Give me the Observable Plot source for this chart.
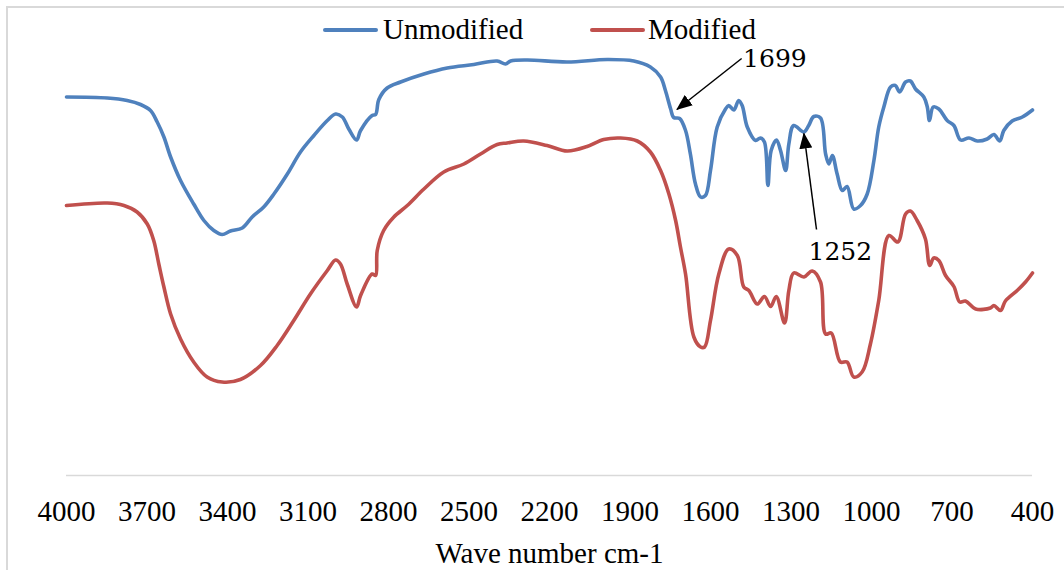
<!DOCTYPE html>
<html><head><meta charset="utf-8">
<script src="https://cdn.jsdelivr.net/npm/d3@7"></script>
<script src="https://cdn.jsdelivr.net/npm/@observablehq/plot@0.6"></script>
<style>
body{margin:0;background:#fff;}
#wrap{position:relative;width:1064px;height:570px;overflow:hidden;background:#fff;}
#frame{position:absolute;left:6px;top:6px;width:1200px;height:800px;border-top:2px solid #d9d9d9;border-left:2px solid #d9d9d9;box-sizing:border-box;pointer-events:none;}
.sw{position:absolute;height:4px;border-radius:2px;top:28px;width:55px;}
.lt{position:absolute;top:15px;font-family:"Liberation Serif","Times New Roman",serif;font-size:29px;line-height:29px;color:#000;white-space:nowrap;}
#chart{position:absolute;left:0;top:0;}
</style></head>
<body>
<div id="wrap">
  <div id="chart"></div>
  <div id="frame"></div>
  <div class="sw" style="left:323px;background:#4f81bd"></div>
  <div class="lt" style="left:383px">Unmodified</div>
  <div class="sw" style="left:590px;background:#c0504d"></div>
  <div class="lt" style="left:648px">Modified</div>
</div>
<script>
// x ticks (wave number, cm-1)
const xTicks = [4000,3700,3400,3100,2800,2500,2200,1900,1600,1300,1000,700,400];

// Unmodified spectrum (wave number, transmittance a.u.)
const wnU = [4000,3848,3774,3724,3687,3662,3637,3612,3575,3526,
 3488,3451,3420,3389,3345,3308,3265,3227,3177,3128,
 3078,3028,2997,2972,2948,2919,2904,2861,2848,2836,
 2805,2755,2668,2581,2482,2395,2364,2345,2283,2134,
 1985,1886,1824,1786,1768,1749,1737,1715,1693,1675,
 1656,1637,1619,1600,1575,1544,1532,1513,1495,1482,
 1463,1432,1414,1399,1386,1374,1354,1339,1320,1308,
 1290,1252,1234,1215,1190,1171,1159,1146,1128,1109,
 1091,1066,1041,1016,991,973,954,929,911,895,
 873,855,836,805,792,784,770,749,718,693,
 668,637,606,569,544,522,507,476,438,400];
const tU = [75.7,75.5,75.0,74.2,73.0,70.7,67.7,63.7,59.0,54.3,
 51.0,49.0,48.2,48.9,49.5,51.7,53.7,56.3,60.3,64.7,
 68.0,71.0,72.3,71.7,69.3,67.1,69.0,72.0,72.2,75.2,
 77.5,78.7,80.3,81.5,82.2,82.9,82.3,82.9,83.1,82.7,
 83.2,82.9,81.7,79.7,77.0,73.4,71.6,71.4,69.0,64.3,
 58.3,55.7,56.0,61.0,69.7,73.3,74.0,73.1,75.0,74.0,
 69.7,67.0,67.5,66.7,58.0,65.0,67.1,65.0,61.0,66.3,
 70.0,68.7,70.0,71.8,71.5,64.3,62.3,64.0,60.3,57.0,
 57.8,53.3,54.0,56.3,63.0,69.7,73.7,77.7,78.0,76.7,
 78.7,78.9,77.3,75.7,73.7,71.0,73.7,73.3,71.0,70.0,
 67.1,67.5,66.9,67.3,68.2,66.9,69.0,70.9,71.7,73.1];

// Modified spectrum
const wnM = [4000,3848,3786,3737,3699,3675,3656,3637,3612,3575,
 3526,3476,3420,3352,3277,3215,3153,3091,3028,2997,
 2979,2954,2919,2904,2861,2848,2842,2818,2780,2730,
 2668,2594,2519,2457,2395,2358,2296,2209,2134,2060,
 1998,1935,1873,1824,1786,1755,1730,1712,1693,1662,
 1637,1622,1600,1569,1532,1500,1476,1457,1426,1399,
 1376,1355,1324,1308,1290,1252,1221,1190,1171,1150,
 1116,1091,1066,1035,1004,973,935,902,873,855,
 830,799,783,768,749,724,693,671,650,612,
 557,544,519,501,457,426,400];
const tM = [54.0,54.5,54.0,52.7,50.3,47.0,42.3,37.7,32.3,27.3,
 22.7,19.7,18.7,19.2,22.0,26.0,31.0,36.3,41.0,43.1,
 42.3,38.3,33.7,36.0,40.3,40.0,45.0,49.0,51.7,54.0,
 57.3,60.7,62.3,64.3,66.2,66.5,66.9,66.0,64.9,65.8,
 67.2,67.5,66.9,64.7,61.0,56.3,51.0,45.7,40.3,27.7,
 25.7,25.7,31.0,40.3,45.3,44.0,37.7,37.0,34.3,35.8,
 33.8,35.8,30.5,37.0,40.5,39.7,40.9,38.7,28.3,28.5,
 22.7,22.7,19.7,20.7,26.3,35.0,48.0,46.7,52.3,52.9,
 51.0,47.3,42.0,43.5,43.0,40.0,37.8,34.7,34.9,33.3,
 33.5,34.0,33.0,34.9,37.0,38.7,40.5];

// Annotations: label, label position, arrow tail and tip
const annLabels = ["1699","1252"];
const annLabelX = [1360,1116];
const annLabelY = [83.4,44.8];
const annTailX = [1484,1205];
const annTailY = [83.4,49.2];
const annTipX = [1725,1252];
const annTipY = [73.2,68.4];

const unmod = wnU.map((w,i)=>({w, t:tU[i]}));
const mod = wnM.map((w,i)=>({w, t:tM[i]}));
const ann = annLabels.map((l,i)=>({l, lx:annLabelX[i], ly:annLabelY[i], x1:annTailX[i], y1:annTailY[i], x2:annTipX[i], y2:annTipY[i]}));

const serif = "Liberation Serif, Times New Roman, serif";
const plot = Plot.plot({
  width: 1064, height: 570,
  marginLeft: 66, marginRight: 32, marginTop: 5, marginBottom: 95,
  style: {fontFamily: serif, fontSize: "29px", color: "#000", background: "transparent"},
  x: {domain: [4000, 400]},
  y: {domain: [0, 94], axis: null},
  marks: [
    Plot.ruleY([0], {stroke: "#d9d9d9", strokeWidth: 1.5}),
    Plot.axisX({ticks: xTicks, tickFormat: "d", tickSize: 0, tickPadding: 25, label: null, fontSize: 29, fill: "#000"}),
    Plot.line(unmod, {x: "w", y: "t", stroke: "#4f81bd", strokeWidth: 3.6, curve: "catmull-rom", strokeLinejoin: "round", strokeLinecap: "round"}),
    Plot.line(mod, {x: "w", y: "t", stroke: "#c0504d", strokeWidth: 3.6, curve: "catmull-rom", strokeLinejoin: "round", strokeLinecap: "round"}),
    Plot.link(ann, {x1: "x1", y1: "y1", x2: "x2", y2: "y2", stroke: "#000", strokeWidth: 1.5}),
    Plot.text(ann, {x: "lx", y: "ly", text: "l", fontSize: 25, fill: "#000", lineAnchor: "middle", textAnchor: "middle"}),
    Plot.text(["Wave number cm-1"], {frameAnchor: "bottom", dy: 78, text: d => d, lineAnchor: "middle", fontSize: 29, fill: "#000"})
  ]
});
document.getElementById("chart").appendChild(plot);

const svg = d3.select(plot);
svg.selectAll("text").style("font-family", serif);
svg.selectAll("text").filter(function(){ return annLabels.includes(this.textContent); })
  .style("font-family", "DejaVu Serif, serif");

// filled arrow heads
const defs = svg.append("defs");
defs.append("marker").attr("id","ahead").attr("markerUnits","userSpaceOnUse")
  .attr("viewBox","0 0 16 13").attr("markerWidth",16).attr("markerHeight",13)
  .attr("refX",15).attr("refY",6.5).attr("orient","auto")
  .append("path").attr("d","M0,0L16,6.5L0,13Z").attr("fill","#000");
svg.selectAll('g[aria-label="link"] path, g[aria-label="link"] line').attr("marker-end","url(#ahead)");
</script>
</body></html>
